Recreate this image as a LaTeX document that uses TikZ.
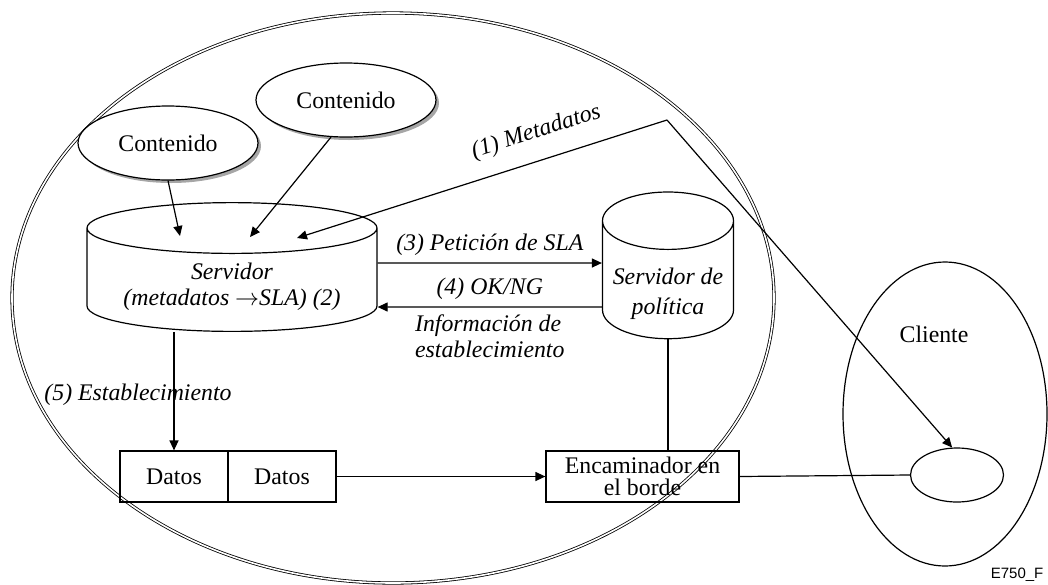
\documentclass[tikz,border=0pt]{standalone}
\usepackage{fontspec}
\setmainfont{Liberation Serif}
\setsansfont{Liberation Sans}
\usepackage{tikz}
\usetikzlibrary{arrows.meta,positioning,calc,shapes.geometric,shadows}

\newcommand\figfont{\fontsize{11.9}{13}\selectfont}
% texto de varias lineas bajado dentro de un cilindro
\newcommand\drumtext[3]{\raisebox{#1}[\height][\depth]{\fontsize{11.9}{#2}\selectfont\itshape\begin{tabular}{@{}c@{}}#3\end{tabular}}}

\tikzset{
  cloud/.style={ellipse,draw,fill=white,inner sep=0pt,minimum width=90pt,minimum height=37pt,
    drop shadow={shadow xshift=1.5pt,shadow yshift=-1.5pt,fill=black!35,opacity=1}},
  drum/.style={cylinder,shape border rotate=90,draw,fill=white,inner sep=0pt,minimum height=61pt},
  box/.style={rectangle,draw,inner sep=0pt,minimum height=25.5pt,align=center},
  lbl/.style={font=\figfont\itshape}
}

\begin{document}
\begin{tikzpicture}[x=0.5pt,y=-0.5pt, >={Triangle[length=5pt,width=4.5pt]}, semithick,
  every node/.style={font=\figfont}]
	\path[use as bounding box,clip] (0,0) rectangle (1048,584);
	% dominio del proveedor
	\draw[double,double distance=0.8pt,thin] (393,298) ellipse [x radius=381,y radius=285];
	\node[cloud]    (cont1) at (168,143)  {Contenido};
	\node[cloud]    (cont2) at (346,100)  {Contenido};
	\node[drum,minimum width=145pt,aspect=0.234] (srv) at (232,280)
	     {\drumtext{-3.5pt}{13pt}{Servidor\\(metadatos $\rightarrow$SLA) (2)}};
	\node[drum,minimum width=65.5pt,aspect=0.52] (pol) at (668,280)
	     {\drumtext{-6.5pt}{15pt}{Servidor de\\política}};
	\node[box,minimum width=54pt]   (dat1) at (174,476.5) {Datos};
	\node[box,minimum width=54pt]   (dat2) at (282,476.5) {Datos};
	\node[box,minimum width=96.5pt,font=\fontsize{11.9}{11}\selectfont] (enc) at (642.5,476.5) {Encaminador en\\el borde};
	% cliente
	\draw (945,414) ellipse [x radius=102,y radius=152];
	\node          (cli)  at (934,334) {Cliente};
	\node[ellipse,draw,inner sep=0pt,minimum width=46.5pt,minimum height=27pt] (host) at (957,475) {};
	\coordinate (bend) at (667,120);
	\path[->]
	(cont1.south) edge ([xshift=-26pt,yshift=22pt]srv.center)
	(cont2.248)   edge ([xshift=9pt,yshift=21.5pt]srv.center)
	([yshift=8.5pt]srv.east) edge node[lbl,above] {(3) Petición de SLA} ([yshift=8.5pt]pol.west)
	([yshift=-13.5pt]pol.west) edge node[lbl,above] {(4) OK/NG}
	     node[lbl,below,align=left] {Información de\\establecimiento} ([yshift=-13.5pt]srv.east)
	(dat1.north |- srv.south) edge (dat1.north)
	(dat2.east) edge (enc.west)
	(bend) edge (host.100);
	\draw[->] (bend) -- node[lbl,pos=0.33,sloped,above=5pt] {(1) Metadatos} ([xshift=32.5pt,yshift=21pt]srv.center);
	\draw (pol.south) -- (pol.south |- enc.north);
	\draw (enc.east) -- (host.west);
	\node[lbl] (est) at (138,395) {(5) Establecimiento};
	\node[anchor=south east,inner sep=1pt,font=\sffamily\fontsize{7.5}{8}\selectfont] (ref) at (1046,584) {E750\_F};
\end{tikzpicture}
\end{document}
